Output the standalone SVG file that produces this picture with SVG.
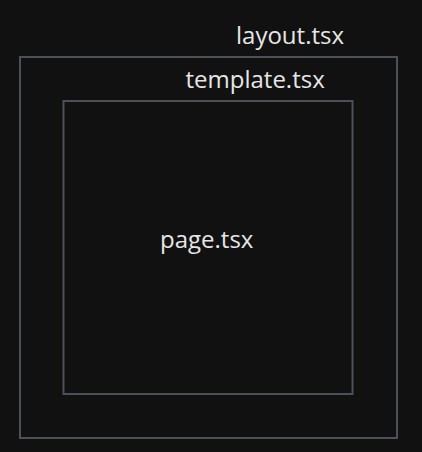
<svg xmlns="http://www.w3.org/2000/svg" width="422" height="452" viewBox="0 0 422 452">
  <style>
    .frame { fill: none; stroke: #4b5157; stroke-width: 2; }
    .label { font-family: "Open Sans", "Noto Sans", sans-serif; font-size: 24px; fill: #e6e6e6; }
  </style>
  <rect width="422" height="452" fill="#111111"/>
  <g id="layout">
    <rect class="frame" x="20" y="57" width="377" height="381"/>
    <text class="label" x="236" y="44">layout.tsx</text>
  </g>
  <g id="template">
    <rect class="frame" x="63.5" y="101" width="289" height="293"/>
    <text class="label" x="185.5" y="88">template.tsx</text>
  </g>
  <g id="page">
    <text class="label" x="160" y="248">page.tsx</text>
  </g>
  <g id="connectors"/>
</svg>
